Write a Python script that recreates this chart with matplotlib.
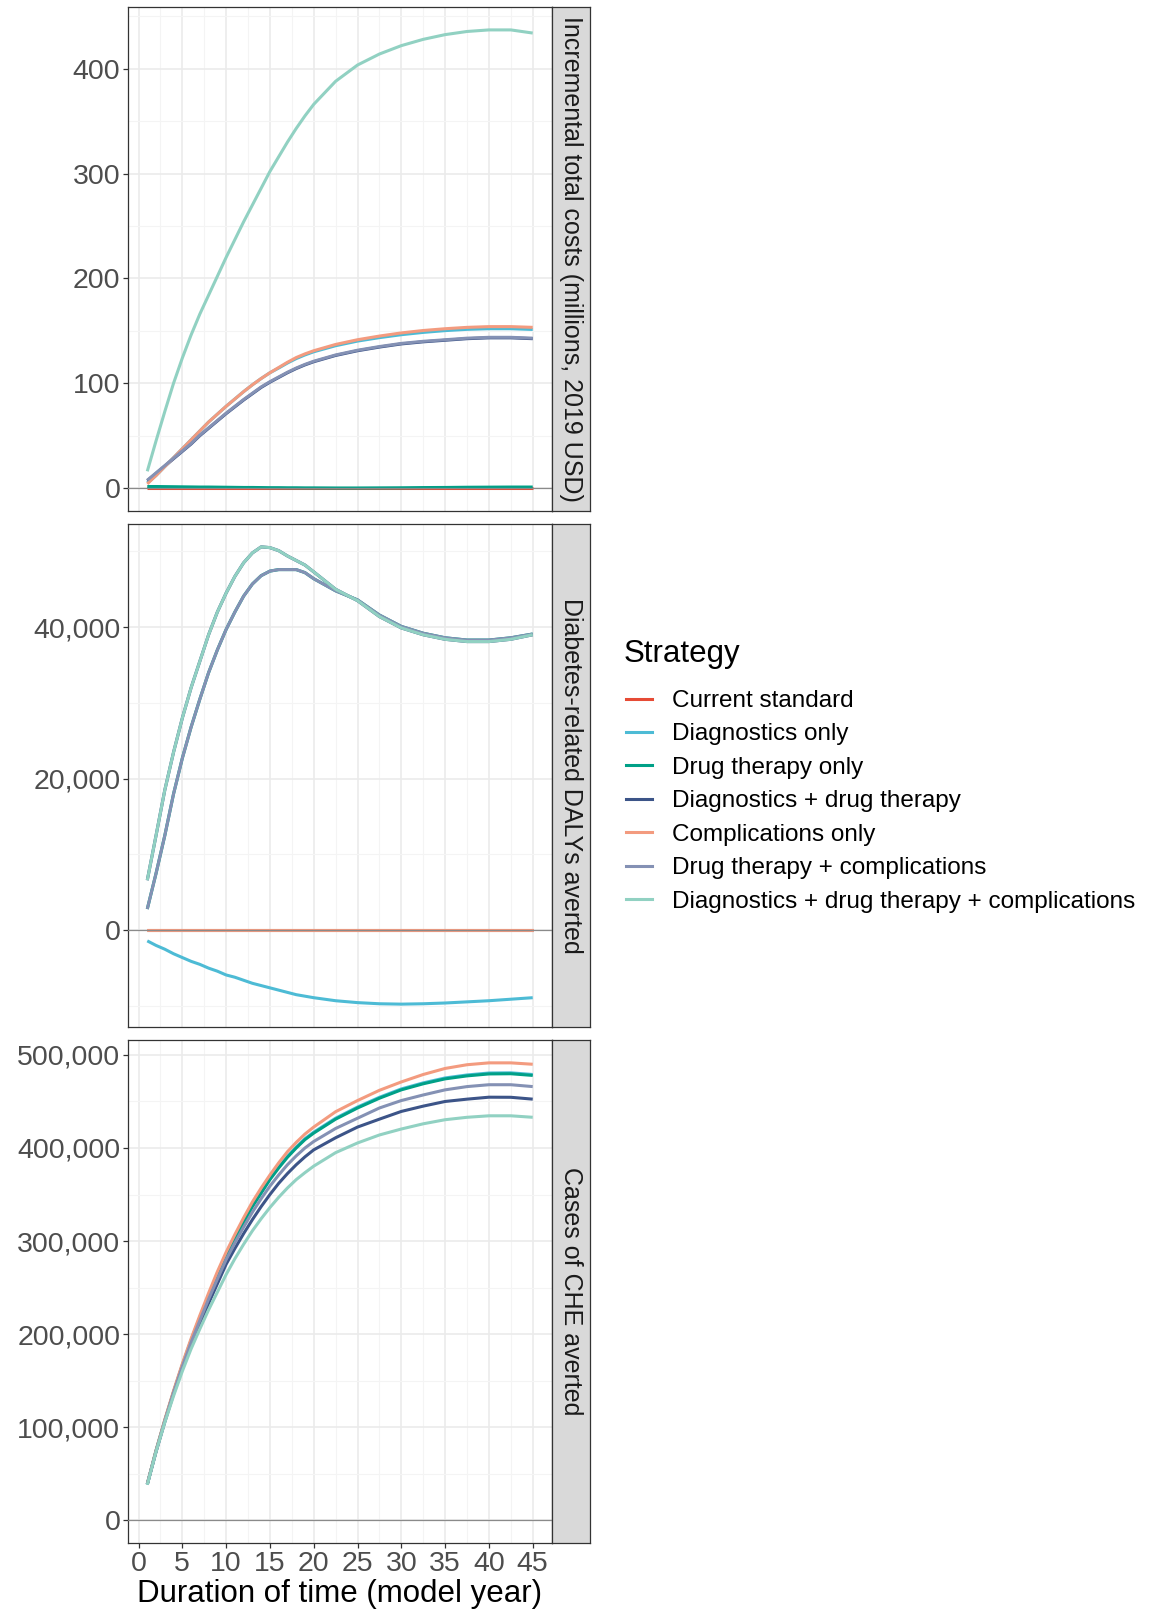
#!/usr/bin/env python3
'''Three stacked facet panels (costs, DALYs, CHE) by strategy over model years.'''

import matplotlib
matplotlib.use('Agg')
import matplotlib.pyplot as plt
from matplotlib.lines import Line2D
from matplotlib.ticker import FuncFormatter, MultipleLocator

plt.rcParams['font.family'] = ['Liberation Sans', 'DejaVu Sans']

strategies = ['Current standard', 'Diagnostics only', 'Drug therapy only',
              'Diagnostics + drug therapy', 'Complications only',
              'Drug therapy + complications',
              'Diagnostics + drug therapy + complications']
colors = ['#E64B35', '#4DBBD5', '#00A087', '#3C5488', '#F39B7F', '#8491B4', '#91D1C2']

years = [1, 2, 3, 4, 5, 6, 7, 8, 9, 10, 11, 12, 13, 14, 15, 16, 17, 18, 19, 20,
         22.5, 25, 27.5, 30, 32.5, 35, 37.5, 40, 42.5, 45]

# incremental total costs, millions 2019 USD
cost_current = [0] * 30
cost_diag = [5, 12, 20.5, 29, 37.5, 46, 54.5, 63, 70.5, 78, 85, 92, 98.5, 104.5, 110,
             114.5, 119.3, 123.5, 127, 130, 135.8, 140.2, 143.5, 146.3, 148.5, 150.2,
             151.4, 152, 152, 151.3]
cost_drug = [1.5, 1.5, 1.4, 1.3, 1.2, 1.1, 1.0, 1.0, 0.9, 0.8, 0.7, 0.6, 0.6, 0.5, 0.4,
             0.4, 0.3, 0.3, 0.2, 0.2, 0.1, 0.1, 0.2, 0.3, 0.5, 0.6, 0.8, 0.9, 1.0, 1.0]
cost_diag_drug = [7, 14, 21, 28, 35, 42, 50, 57, 64, 71, 77.5, 84, 90, 96, 101, 105.5,
                  110, 114, 117.5, 120.5, 126.5, 131, 134.5, 137.5, 139.5, 141, 142.5,
                  143.3, 143.3, 142.5]
cost_comp = [4, 12, 20.5, 29, 37.5, 46, 54.5, 63, 70.5, 78, 85, 92, 98.5, 104.5, 110,
             115, 120, 124.5, 128, 131, 137, 141.5, 145, 148, 150.3, 152, 153.3, 154,
             154, 153.3]
cost_drug_comp = [7.5, 14.5, 21.5, 28.5, 35.5, 42.5, 50.5, 57.5, 64.5, 71.5, 78, 84.5,
                  90.5, 96.5, 101.5, 106, 110.5, 114.5, 118, 121, 127, 131.5, 135,
                  138, 140, 141.5, 143, 143.8, 143.8, 143]
cost_all = [16, 45, 73, 100, 124, 146, 166, 184, 202, 220, 237, 254, 270, 286, 302,
            316, 330, 343, 355, 366, 388, 403.5, 414, 422, 428, 432.5, 435.5, 437, 437, 434]

# diabetes-related DALYs averted
daly_current = [0] * 30
daly_diag = [-1400, -2000, -2500, -3100, -3600, -4100, -4500, -5000, -5400, -5900,
             -6200, -6600, -7000, -7300, -7600, -7900, -8200, -8500, -8700, -8900,
             -9300, -9550, -9700, -9750, -9700, -9600, -9450, -9300, -9100, -8900]
daly_drug = [2800, 7500, 12500, 18000, 22700, 26800, 30500, 34000, 37000, 39700,
             42000, 44100, 45700, 46800, 47400, 47600, 47600, 47600, 47200, 46400,
             44800, 43600, 41600, 40100, 39200, 38600, 38300, 38300, 38600, 39100]
daly_diag_drug = [6600, 12500, 18500, 23500, 28000, 32000, 35500, 39000, 42000, 44500,
                  46700, 48500, 49800, 50600, 50500, 50100, 49400, 48800, 48200, 47300,
                  45000, 43500, 41400, 39900, 39000, 38400, 38100, 38100, 38400, 39000]
daly_comp = [0] * 30
daly_drug_comp = [2800, 7500, 12500, 18000, 22700, 26800, 30500, 34000, 37000, 39700,
                  42000, 44100, 45700, 46800, 47400, 47600, 47600, 47600, 47200, 46400,
                  44800, 43600, 41600, 40100, 39200, 38600, 38300, 38300, 38600, 39100]
daly_all = [6600, 12500, 18500, 23500, 28000, 32000, 35500, 39000, 42000, 44500,
            46700, 48500, 49800, 50600, 50500, 50100, 49400, 48800, 48200, 47300,
            45000, 43500, 41400, 39900, 39000, 38400, 38100, 38100, 38400, 39000]

# cases of catastrophic health expenditure averted (no current standard series)
che_diag = [38500, 74500, 107000, 138000, 167000, 193500, 218000, 241500, 264000, 285000,
            303500, 321000, 338000, 352500, 367000, 379500, 391000, 401000, 410000, 417000,
            432000, 444000, 454500, 463500, 470000, 475300, 478500, 480600, 480800, 479000]
che_drug = [38500, 74500, 107000, 137500, 166000, 192500, 217000, 240500, 263000, 284000,
            302500, 320000, 337000, 351500, 366000, 378500, 390000, 400000, 409000, 416000,
            431000, 443000, 453500, 462500, 469000, 474300, 477500, 479600, 479800, 478000]
che_diag_drug = [38500, 73500, 105500, 135500, 163000, 188000, 211000, 233000, 254000, 275000,
                 292000, 308000, 323000, 337000, 350000, 362000, 372500, 382000, 390500, 398000,
                 411000, 422500, 431000, 439300, 445000, 450000, 452500, 454600, 454500, 452500]
che_comp = [39000, 75000, 108000, 139000, 168000, 195000, 220000, 244000, 267000, 288000,
            307000, 325000, 342000, 357000, 371000, 384000, 396000, 406000, 415000, 422500,
            439000, 451000, 462000, 471000, 479000, 485500, 489500, 491500, 491500, 490000]
che_drug_comp = [38500, 74000, 106500, 137000, 165000, 191000, 214500, 237500, 259000, 280000,
                 298000, 315000, 331000, 345500, 359000, 371000, 382000, 391500, 400000, 407000,
                 421000, 432000, 443000, 451000, 457000, 462500, 466000, 468000, 468000, 466000]
che_all = [38000, 73500, 105000, 133500, 160000, 184000, 205500, 226000, 245000, 264000,
           281000, 296500, 311000, 324000, 336000, 347000, 357000, 366000, 373500, 380500,
           395000, 405400, 414000, 420400, 426000, 430400, 433000, 434600, 434600, 433000]

panels = [
    ('Incremental total costs (millions, 2019 USD)',
     [cost_current, cost_diag, cost_drug, cost_diag_drug, cost_comp, cost_drug_comp, cost_all],
     100, 50, False),
    ('Diabetes-related DALYs averted',
     [daly_current, daly_diag, daly_drug, daly_diag_drug, daly_comp, daly_drug_comp, daly_all],
     20000, 10000, True),
    ('Cases of CHE averted',
     [None, che_diag, che_drug, che_diag_drug, che_comp, che_drug_comp, che_all],
     100000, 50000, True),
]

W, H = 1155, 1619
fig = plt.figure(figsize=(W / 100, H / 100), dpi=100)

left, right, strip_r = 128, 552, 590
tops = [7, 524, 1040]
bots = [511, 1027, 1543]

for i, (label, series, major, minor, comma) in enumerate(panels):
    ax = fig.add_axes([left / W, 1 - bots[i] / H, (right - left) / W, (bots[i] - tops[i]) / H])
    for name, col, vals in zip(strategies, colors, series):
        if vals is None:
            continue
        ax.plot(years, vals, color=col, lw=2.2, solid_capstyle='butt',
                solid_joinstyle='round', zorder=3)
    ax.axhline(0, color='#8a8a8a', lw=0.9, zorder=4)

    vals_all = [v for s in series if s is not None for v in s] + [0]
    lo, hi = min(vals_all), max(vals_all)
    pad = 0.05 * (hi - lo)
    ax.set_ylim(lo - pad, hi + pad)
    ax.set_xlim(1 - 0.05 * 44, 45 + 0.05 * 44)

    ax.xaxis.set_major_locator(MultipleLocator(5))
    ax.xaxis.set_minor_locator(MultipleLocator(2.5))
    ax.yaxis.set_major_locator(MultipleLocator(major))
    ax.yaxis.set_minor_locator(MultipleLocator(minor))
    if comma:
        ax.yaxis.set_major_formatter(FuncFormatter(lambda v, p: f'{int(round(v)):,}'))
    else:
        ax.yaxis.set_major_formatter(FuncFormatter(lambda v, p: f'{int(round(v))}'))

    ax.grid(which='major', color='#EBEBEB', lw=1.2, zorder=0)
    ax.grid(which='minor', color='#F4F4F4', lw=0.8, zorder=0)
    ax.set_axisbelow(True)
    for sp in ax.spines.values():
        sp.set_color('#333333')
        sp.set_linewidth(0.9)
    ax.tick_params(which='major', length=3.5, width=0.9, color='#333333',
                   labelsize=20.5, labelcolor='#4D4D4D', pad=2)
    ax.tick_params(which='minor', length=0)
    if i < 2:
        ax.tick_params(axis='x', labelbottom=False, length=0)
    else:
        ax.set_xlabel('Duration of time (model year)', fontsize=22.5, color='black', labelpad=2)

    sax = fig.add_axes([right / W, 1 - bots[i] / H, (strip_r - right) / W, (bots[i] - tops[i]) / H])
    sax.set_facecolor('#D9D9D9')
    sax.set_xticks([])
    sax.set_yticks([])
    for sp in sax.spines.values():
        sp.set_color('#333333')
        sp.set_linewidth(0.9)
    sax.text(0.5, 0.5, label, rotation=-90, ha='center', va='center',
             fontsize=18, color='#1A1A1A', transform=sax.transAxes)

fig.text(624 / W, 1 - 654 / H, 'Strategy', fontsize=22.5, ha='left', va='center')
handles = [Line2D([], [], color=c, lw=2.2) for c in colors]
fig.legend(handles, strategies, loc='upper left',
           bbox_to_anchor=(626 / W, 1 - 690 / H), frameon=False, fontsize=17.5,
           handlelength=1.05, handletextpad=0.85, labelspacing=0.47,
           borderpad=0, borderaxespad=0)

fig.savefig('out.png', dpi=100)
